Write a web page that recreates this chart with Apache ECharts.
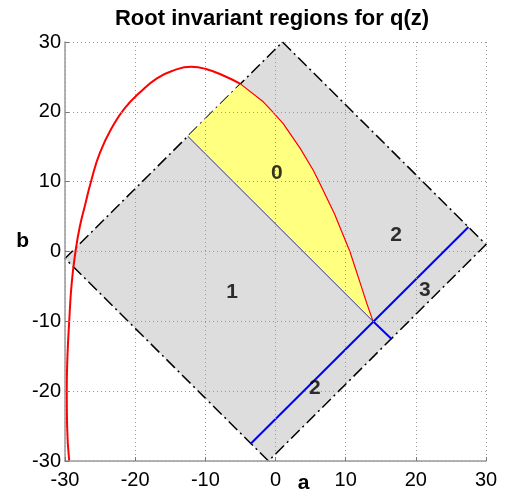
<!DOCTYPE html>
<html lang="en">
<head>
    <meta charset="UTF-8">
    <title>Root invariant regions for q(z)</title>
    <script src="https://cdn.jsdelivr.net/npm/echarts@6/dist/echarts.min.js"></script>
    <style>
        html, body { margin: 0; padding: 0; background: #fff; }
    </style>
</head>
<body>
<div id="main" style="width: 506px;height:491px;"></div>
<script type="text/javascript">
    var ticks = [-30, -20, -10, 0, 10, 20, 30];

    // corners of the shaded square (a, b)
    var diamondA = [1, 30, -1, -30];
    var diamondB = [30, 1, -30, -1];

    // red boundary curve
    var curveA = [-29.4, -29.7, -29.75, -29.65, -29.4, -29.05, -28.5, -27.9, -27.1, -26.3,
                  -25.0, -23.1, -21.5, -19.3, -16.9, -14.6, -12.0, -9.8, -7.2, -5.0,
                  -1.7, -0.4, 1.1, 3.5, 5.4, 6.2, 8.4, 10.6, 12.1, 13.0, 13.9];
    var curveB = [-30, -25, -20, -15, -10, -4.6, 0, 3.5, 6.8, 10,
                  14.2, 18.1, 20.5, 22.8, 24.8, 25.9, 26.45, 26.1, 25.1, 24.0,
                  21.4, 20.0, 18.3, 14.8, 11.6, 10.0, 5.4, 0, -4.6, -7.4, -10];
    var cornerIdx = 19; // curve meets the upper-left edge here

    var blueLong = [[-3.5, -27.5], [27.5, 3.5]];
    var blueShort = [[13.9, -10], [16.5, -12.5]];
    var blueUpper = [[-12.5, 16.5], [13.9, -10]];

    var regionText = ['0', '2', '1', '3', '2'];
    var regionA = [0.2, 17.2, -6.2, 21.3, 5.6];
    var regionB = [11.2, 2.4, -5.9, -5.6, -19.6];

    var font = 'Liberation Sans, Arial, sans-serif';

    var diamond = diamondA.map(function (a, i) { return [a, diamondB[i]]; });
    var curve = curveA.map(function (a, i) { return [a, curveB[i]]; });
    var curveOuter = curve.slice(0, cornerIdx + 1);
    var curveInner = curve.slice(cornerIdx);
    var yellow = [blueUpper[0]].concat(curveInner);

    function polygonSeries(pts, style) {
        return {
            type: 'custom',
            data: [[0, 0]],
            silent: true,
            renderItem: function (params, api) {
                return {
                    type: 'polygon',
                    shape: { points: pts.map(function (p) { return api.coord(p); }) },
                    style: style
                };
            }
        };
    }

    function lineSeries(pts, color, width, smooth) {
        return {
            type: 'line',
            data: pts,
            symbol: 'none',
            silent: true,
            smooth: smooth || false,
            lineStyle: { color: color, width: width }
        };
    }

    var myChart = echarts.init(document.getElementById('main'));

    var axisCommon = {
        type: 'value',
        min: ticks[0],
        max: ticks[ticks.length - 1],
        interval: 10,
        z: 5,
        nameLocation: 'middle',
        nameMoveOverlap: false,
        axisLine: { onZero: false, lineStyle: { color: '#999', width: 1.5 } },
        axisTick: { inside: true, length: 4, lineStyle: { color: '#777' } },
        axisLabel: { color: '#000', fontSize: 20, fontFamily: font },
        splitLine: { show: true, lineStyle: { color: '#999', width: 1, type: [1, 3] } }
    };

    var option = {
        animation: false,
        title: {
            text: 'Root invariant regions for q(z)',
            left: 267,
            top: 3,
            textAlign: 'center',
            textStyle: { fontSize: 22, fontWeight: 'bold', color: '#000', fontFamily: font }
        },
        grid: { left: 65, top: 42, width: 421, height: 419, outerBoundsMode: 'none' },
        xAxis: echarts.util.merge({
            name: 'a',
            nameGap: 12,
            axisLabel: { margin: 9 },
            nameTextStyle: { fontSize: 21, fontWeight: 'bold', color: '#000', fontFamily: font, padding: [0, 0, 0, 56] }
        }, axisCommon),
        yAxis: echarts.util.merge({
            name: 'b',
            nameGap: 36,
            nameRotate: 0,
            axisLabel: { margin: 4 },
            nameTextStyle: { fontSize: 21, fontWeight: 'bold', color: '#000', fontFamily: font, verticalAlign: 'bottom' }
        }, axisCommon),
        series: [
            polygonSeries(diamond, { fill: '#dddddd', stroke: '#000', lineWidth: 1.5, lineDash: [12, 4, 2, 4] }),
            lineSeries(curveOuter, '#ff0000', 2, 0.5),
            polygonSeries(yellow, { fill: '#ffff80', stroke: null }),
            lineSeries(curveInner, '#ff0000', 1.2),
            lineSeries(blueUpper, '#2a2ab0', 1),
            lineSeries(blueLong, '#0000ff', 2),
            lineSeries(blueShort, '#0000ff', 2),
            {
                type: 'scatter',
                symbolSize: 1,
                itemStyle: { color: 'rgba(0,0,0,0)' },
                silent: true,
                z: 10,
                data: regionA.map(function (a, i) { return [a, regionB[i], regionText[i]]; }),
                label: {
                    show: true,
                    position: 'inside',
                    formatter: function (p) { return p.value[2]; },
                    fontSize: 21,
                    fontWeight: 'bold',
                    color: '#000',
                    fontFamily: font
                }
            }
        ]
    };
    myChart.setOption(option);
</script>
</body>
</html>
